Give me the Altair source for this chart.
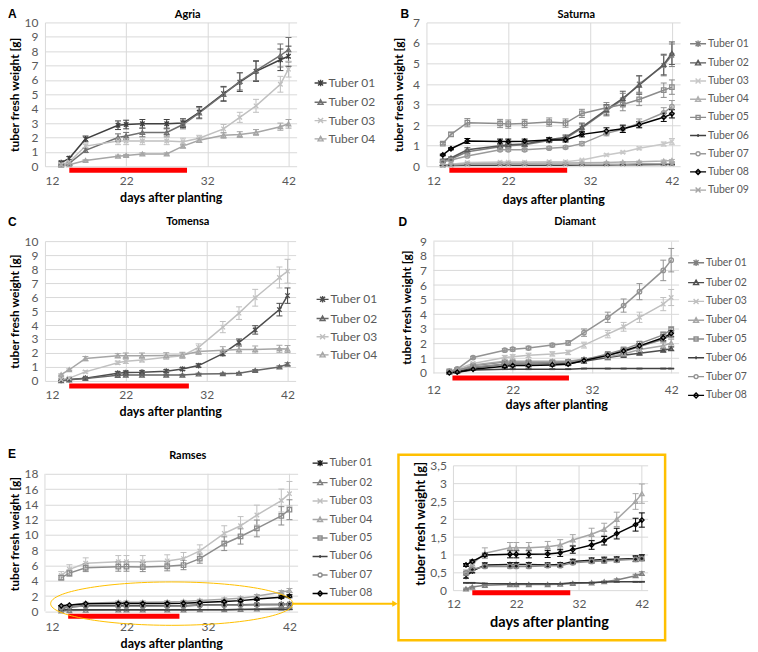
import altair as alt
import pandas as pd

# ---------------- data ----------------
DAYS = [14, 15, 17, 21, 22, 24, 27, 29, 31, 34, 36, 38, 41, 42]
X_TICKS = [12, 22, 32, 42]

# treatment period (red bar): start / end day
RED_AGRIA = [15, 29.5]
RED_SATURNA = [14.8, 29.2]
RED_TOMENSA = [15, 29.8]
RED_DIAMANT = [14.4, 29.1]
RED_RAMSES = [14.85, 28.5]
RED_INSET = [15, 30.6]

# Agria
AGRIA_NAMES = ["Tuber 01", "Tuber 02", "Tuber 03", "Tuber 04"]
agria_01 = [0.25, 0.55, 1.9, 2.85, 2.9, 2.95, 2.95, 3.0, 3.75, 5.05, 5.85, 6.6, 7.4, 7.65]
agria_02 = [0.15, 0.2, 1.1, 2.0, 2.1, 2.35, 2.35, 2.9, 3.7, 5.0, 5.9, 6.65, 7.7, 8.1]
agria_03 = [0.1, 0.3, 1.4, 1.75, 1.75, 1.75, 1.75, 1.7, 1.95, 2.6, 3.4, 4.2, 5.7, 6.75]
agria_04 = [0.05, 0.1, 0.4, 0.7, 0.75, 0.85, 0.85, 1.4, 1.8, 2.15, 2.2, 2.35, 2.75, 2.95]
agria_01_err = [0.1, 0.12, 0.2, 0.3, 0.3, 0.3, 0.3, 0.3, 0.4, 0.5, 0.65, 0.7, 0.75, 0.7]
agria_02_err = [0.08, 0.1, 0.15, 0.25, 0.25, 0.3, 0.25, 0.3, 0.4, 0.5, 0.6, 0.7, 0.8, 0.85]
agria_03_err = [0.05, 0.1, 0.15, 0.25, 0.25, 0.25, 0.25, 0.25, 0.2, 0.3, 0.35, 0.45, 0.55, 0.55]
agria_04_err = [0.03, 0.05, 0.05, 0.07, 0.07, 0.08, 0.08, 0.12, 0.15, 0.2, 0.2, 0.2, 0.25, 0.3]

# Saturna
SATURNA_NAMES = ["Tuber 01", "Tuber 02", "Tuber 03", "Tuber 04", "Tuber 05",
                 "Tuber 06", "Tuber 07", "Tuber 08", "Tuber 09"]
saturna_01 = [0.25, 0.35, 0.7, 0.95, 1.0, 1.05, 1.25, 1.35, 1.85, 2.7, 3.25, 4.0, 4.9, 5.4]
saturna_02 = [0.3, 0.4, 0.8, 1.0, 1.05, 1.08, 1.3, 1.4, 1.9, 2.75, 3.3, 3.95, 4.95, 5.5]
saturna_03 = [0.05, 0.1, 0.18, 0.2, 0.2, 0.2, 0.22, 0.22, 0.3, 0.55, 0.68, 0.87, 1.08, 1.2]
saturna_04 = [0.05, 0.08, 0.12, 0.15, 0.15, 0.15, 0.16, 0.16, 0.17, 0.18, 0.2, 0.22, 0.25, 0.28]
saturna_05 = [1.1, 1.55, 2.12, 2.08, 2.05, 2.08, 2.15, 2.1, 2.57, 2.85, 3.0, 3.25, 3.7, 3.85]
saturna_06 = [0.03, 0.04, 0.05, 0.05, 0.05, 0.05, 0.05, 0.05, 0.06, 0.06, 0.07, 0.07, 0.08, 0.08]
saturna_07 = [0.2, 0.3, 0.5, 0.8, 0.8, 0.8, 0.88, 0.92, 1.1, 1.6, 1.8, 2.1, 2.6, 2.9]
saturna_08 = [0.55, 0.85, 1.23, 1.2, 1.2, 1.22, 1.28, 1.28, 1.55, 1.72, 1.82, 2.02, 2.38, 2.55]
saturna_09 = [0.05, 0.06, 0.1, 0.1, 0.1, 0.1, 0.1, 0.1, 0.1, 0.1, 0.1, 0.12, 0.12, 0.12]
saturna_01_err = [0.04, 0.05, 0.08, 0.1, 0.1, 0.1, 0.1, 0.12, 0.2, 0.25, 0.3, 0.4, 0.5, 0.55]
saturna_02_err = [0.04, 0.05, 0.1, 0.1, 0.1, 0.1, 0.1, 0.12, 0.2, 0.25, 0.35, 0.45, 0.5, 0.55]
saturna_03_err = [0.02, 0.02, 0.03, 0.03, 0.03, 0.03, 0.03, 0.03, 0.04, 0.05, 0.05, 0.07, 0.1, 0.15]
saturna_04_err = [0.02, 0.02, 0.02, 0.02, 0.02, 0.02, 0.02, 0.02, 0.02, 0.03, 0.03, 0.03, 0.05, 0.05]
saturna_05_err = [0.05, 0.1, 0.2, 0.2, 0.2, 0.2, 0.2, 0.2, 0.2, 0.25, 0.3, 0.3, 0.35, 0.35]
saturna_06_err = [0.01, 0.01, 0.01, 0.01, 0.01, 0.01, 0.01, 0.01, 0.01, 0.01, 0.02, 0.02, 0.02, 0.02]
saturna_07_err = [0.03, 0.04, 0.05, 0.07, 0.07, 0.07, 0.07, 0.07, 0.1, 0.12, 0.15, 0.2, 0.25, 0.3]
saturna_08_err = [0.04, 0.05, 0.12, 0.12, 0.12, 0.1, 0.1, 0.1, 0.12, 0.15, 0.18, 0.15, 0.2, 0.2]
saturna_09_err = [0.01, 0.01, 0.02, 0.02, 0.02, 0.02, 0.02, 0.02, 0.02, 0.02, 0.02, 0.03, 0.03, 0.03]

# Tomensa
TOMENSA_NAMES = ["Tuber 01", "Tuber 02", "Tuber 03", "Tuber 04"]
tomensa_01 = [0.05, 0.1, 0.2, 0.55, 0.6, 0.62, 0.7, 0.85, 1.1, 1.95, 2.75, 3.65, 5.1, 6.1]
tomensa_02 = [0.02, 0.08, 0.18, 0.4, 0.42, 0.42, 0.42, 0.42, 0.5, 0.52, 0.55, 0.75, 1.0, 1.2]
tomensa_03 = [0.1, 0.2, 0.65, 1.3, 1.4, 1.5, 1.7, 1.8, 2.4, 3.85, 4.85, 5.95, 7.4, 7.85]
tomensa_04 = [0.45, 0.8, 1.6, 1.8, 1.8, 1.8, 1.82, 1.85, 2.1, 2.2, 2.25, 2.25, 2.3, 2.28]
tomensa_01_err = [0.02, 0.03, 0.05, 0.1, 0.1, 0.1, 0.1, 0.1, 0.12, 0.15, 0.25, 0.3, 0.45, 0.55]
tomensa_02_err = [0.01, 0.02, 0.03, 0.05, 0.05, 0.05, 0.05, 0.05, 0.05, 0.05, 0.06, 0.07, 0.08, 0.1]
tomensa_03_err = [0.03, 0.05, 0.08, 0.12, 0.15, 0.15, 0.15, 0.2, 0.25, 0.4, 0.45, 0.6, 0.75, 0.85]
tomensa_04_err = [0.05, 0.06, 0.15, 0.15, 0.2, 0.2, 0.2, 0.2, 0.2, 0.25, 0.25, 0.25, 0.25, 0.25]

# Diamant
DIAMANT_NAMES = ["Tuber 01", "Tuber 02", "Tuber 03", "Tuber 04",
                 "Tuber 05", "Tuber 06", "Tuber 07", "Tuber 08"]
diamant_01 = [0.1, 0.15, 0.5, 0.75, 0.75, 0.75, 0.75, 0.75, 0.9, 1.2, 1.45, 1.8, 2.3, 2.6]
diamant_02 = [0.05, 0.1, 0.35, 0.6, 0.62, 0.62, 0.65, 0.65, 0.8, 1.05, 1.2, 1.35, 1.55, 1.65]
diamant_03 = [0.08, 0.25, 0.65, 1.05, 1.1, 1.2, 1.3, 1.4, 1.9, 2.65, 3.15, 3.8, 4.7, 5.15]
diamant_04 = [0.1, 0.15, 0.55, 0.8, 0.8, 0.8, 0.8, 0.8, 0.95, 1.1, 1.3, 1.6, 1.85, 2.05]
diamant_05 = [0.1, 0.2, 0.4, 0.6, 0.65, 0.65, 0.7, 0.75, 0.9, 1.3, 1.6, 2.0, 2.6, 2.95]
diamant_06 = [0.05, 0.05, 0.2, 0.25, 0.25, 0.25, 0.25, 0.25, 0.3, 0.3, 0.3, 0.3, 0.3, 0.3]
diamant_07 = [0.1, 0.27, 1.05, 1.55, 1.62, 1.7, 1.9, 2.05, 2.75, 3.8, 4.6, 5.55, 7.0, 7.7]
diamant_08 = [0.0, 0.05, 0.25, 0.45, 0.5, 0.5, 0.55, 0.6, 0.85, 1.2, 1.5, 1.85, 2.4, 2.7]
diamant_01_err = [0.03, 0.04, 0.06, 0.08, 0.08, 0.08, 0.08, 0.08, 0.08, 0.1, 0.12, 0.15, 0.18, 0.2]
diamant_02_err = [0.02, 0.03, 0.05, 0.06, 0.06, 0.06, 0.06, 0.06, 0.06, 0.08, 0.08, 0.1, 0.1, 0.12]
diamant_03_err = [0.03, 0.05, 0.08, 0.15, 0.15, 0.15, 0.15, 0.15, 0.2, 0.25, 0.3, 0.35, 0.45, 0.55]
diamant_04_err = [0.03, 0.04, 0.06, 0.08, 0.08, 0.08, 0.08, 0.08, 0.08, 0.1, 0.12, 0.15, 0.2, 0.25]
diamant_05_err = [0.03, 0.04, 0.05, 0.07, 0.07, 0.07, 0.07, 0.08, 0.08, 0.1, 0.12, 0.15, 0.2, 0.2]
diamant_06_err = [0.01, 0.01, 0.02, 0.02, 0.02, 0.02, 0.02, 0.02, 0.02, 0.02, 0.02, 0.02, 0.02, 0.02]
diamant_07_err = [0.03, 0.05, 0.08, 0.1, 0.12, 0.12, 0.12, 0.15, 0.25, 0.35, 0.45, 0.55, 0.7, 0.8]
diamant_08_err = [0.01, 0.02, 0.04, 0.08, 0.08, 0.08, 0.08, 0.1, 0.1, 0.12, 0.12, 0.15, 0.2, 0.2]

# Ramses
RAMSES_NAMES = ["Tuber 01", "Tuber 02", "Tuber 03", "Tuber 04",
                "Tuber 05", "Tuber 06", "Tuber 07", "Tuber 08"]
ramses_01 = [0.4, 0.55, 0.72, 0.73, 0.73, 0.73, 0.72, 0.73, 0.82, 0.85, 0.87, 0.88, 0.9, 0.93]
ramses_02 = [0.05, 0.1, 0.15, 0.17, 0.17, 0.17, 0.17, 0.18, 0.2, 0.22, 0.25, 0.3, 0.42, 0.48]
ramses_03 = [4.7, 5.5, 6.3, 6.5, 6.5, 6.5, 6.6, 6.9, 7.9, 10.2, 11.2, 12.6, 14.5, 15.4]
ramses_04 = [0.5, 0.75, 1.05, 1.2, 1.2, 1.2, 1.23, 1.28, 1.42, 1.58, 1.72, 2.0, 2.5, 2.72]
ramses_05 = [4.4, 5.0, 5.7, 5.85, 5.85, 5.8, 5.9, 6.05, 6.9, 8.85, 9.8, 10.85, 12.5, 13.3]
ramses_06 = [0.22, 0.22, 0.2, 0.19, 0.19, 0.19, 0.19, 0.19, 0.22, 0.22, 0.24, 0.25, 0.25, 0.25]
ramses_07 = [0.5, 0.6, 0.68, 0.68, 0.68, 0.68, 0.7, 0.7, 0.78, 0.82, 0.83, 0.85, 0.88, 0.9]
ramses_08 = [0.72, 0.82, 1.0, 1.02, 1.02, 1.02, 1.03, 1.06, 1.15, 1.28, 1.4, 1.6, 1.85, 1.98]
ramses_01_err = [0.05, 0.05, 0.06, 0.06, 0.06, 0.06, 0.06, 0.06, 0.06, 0.07, 0.07, 0.07, 0.08, 0.08]
ramses_02_err = [0.02, 0.02, 0.02, 0.02, 0.02, 0.02, 0.02, 0.02, 0.02, 0.02, 0.02, 0.03, 0.04, 0.05]
ramses_03_err = [0.5, 0.6, 0.7, 0.8, 0.8, 0.8, 0.8, 0.8, 0.8, 1.0, 1.2, 1.3, 1.5, 1.6]
ramses_04_err = [0.08, 0.1, 0.15, 0.15, 0.15, 0.15, 0.15, 0.15, 0.15, 0.17, 0.17, 0.2, 0.22, 0.27]
ramses_05_err = [0.3, 0.4, 0.5, 0.6, 0.6, 0.6, 0.6, 0.6, 0.6, 0.9, 1.0, 1.1, 1.2, 1.3]
ramses_06_err = [0.01, 0.01, 0.01, 0.01, 0.01, 0.01, 0.01, 0.01, 0.01, 0.01, 0.01, 0.01, 0.01, 0.01]
ramses_07_err = [0.04, 0.04, 0.05, 0.05, 0.05, 0.05, 0.05, 0.05, 0.05, 0.06, 0.06, 0.06, 0.07, 0.07]
ramses_08_err = [0.04, 0.04, 0.05, 0.1, 0.1, 0.1, 0.1, 0.1, 0.1, 0.12, 0.12, 0.15, 0.18, 0.2]
INSET_NAMES = ["Tuber 01", "Tuber 02", "Tuber 04", "Tuber 06", "Tuber 07", "Tuber 08"]

# ---------------- style ----------------
FONT = "Lato"
GRID = "#d9d9d9"
LABEL = "#595959"
GOLD = "#FFC000"

AGRIA_COLORS = ["#404040", "#707070", "#c0c0c0", "#a6a6a6"]
SATURNA_COLORS = ["#7f7f7f", "#595959", "#c8c8c8", "#b0b0b0", "#8c8c8c",
                  "#404040", "#9a9a9a", "#000000", "#a6a6a6"]
TOMENSA_COLORS = ["#4d4d4d", "#666666", "#c0c0c0", "#a6a6a6"]
DIAMANT_COLORS = ["#7f7f7f", "#4d4d4d", "#c0c0c0", "#a6a6a6",
                  "#8c8c8c", "#404040", "#939393", "#000000"]
RAMSES_COLORS = ["#1a1a1a", "#808080", "#c0c0c0", "#a6a6a6",
                 "#8c8c8c", "#404040", "#8c8c8c", "#000000"]

TUBER_MARK = {"Tuber 01": "ast", "Tuber 02": "tri", "Tuber 03": "x", "Tuber 04": "tri",
              "Tuber 05": "sq", "Tuber 06": "dash", "Tuber 07": "circ",
              "Tuber 08": "dia", "Tuber 09": "x"}
MARK_PATHS = {
    "ast": "M-1,-1L1,1M-1,1L1,-1M0,-1.3V1.3",
    "tri": "triangle-up",
    "x": "M-1,-1L1,1M-1,1L1,-1",
    "sq": "square",
    "dash": "M-1.3,0H1.3",
    "circ": "circle",
    "dia": "diamond",
}


def leg_path(kind, k):
    h = round(k, 3)
    if kind == "ast":
        return f"M-1,0H1M{-h},{-h}L{h},{h}M{-h},{h}L{h},{-h}M0,{-h*1.3:.3f}V{h*1.3:.3f}"
    if kind == "tri":
        return f"M-1,0H1M0,{-h}L{h},{h*0.8:.3f}H{-h}Z"
    if kind == "x":
        return f"M-1,0H1M{-h},{-h}L{h},{h}M{-h},{h}L{h},{-h}"
    if kind == "sq":
        return f"M-1,0H1M{-h*0.8:.3f},{-h*0.8:.3f}H{h*0.8:.3f}V{h*0.8:.3f}H{-h*0.8:.3f}Z"
    if kind == "dash":
        return f"M-1,0H1M0,{-h*0.6:.3f}V{h*0.6:.3f}"
    if kind == "circ":
        r = h * 0.8
        return (f"M-1,0H{-r:.3f}A{r:.3f},{r:.3f} 0 1,1 {r:.3f},0"
                f"A{r:.3f},{r:.3f} 0 1,1 {-r:.3f},0M{r:.3f},0H1")
    return f"M-1,0H1M0,{-h}L{h},0L0,{h}L{-h},0Z"


def make_df(names, values, errors):
    rows = []
    for n, vals, errs in zip(names, values, errors):
        for d, v, e in zip(DAYS, vals, errs):
            rows.append({"day": d, "tuber": n, "v": v, "lo": v - e, "hi": v + e})
    return pd.DataFrame(rows)


ONE = alt.Data(values=[{"k": 1}])


def text_layer(txt, x, y, size, font=FONT, align="center", baseline="middle"):
    return alt.Chart(ONE).mark_text(
        text=txt, font=font, fontSize=size, fontWeight="bold", color="black",
        align=align, baseline=baseline
    ).encode(x=alt.value(x), y=alt.value(y))


def panel(names, values, errors, colors, width, height, xmin, ymax, yticks, red, red_dy,
          legend=None, title=None, letter=None, ytitle_x=-30, xtitle_y=31, xtitle_x=None,
          xlabel_pad=9, ytitle_size=12, xtitle_size=12.5, comma=False, yoffset=0,
          xgrid_manual=False, ygrid_manual=False, post=()):
    df = make_df(names, values, errors)
    xs = alt.Scale(domain=[xmin, 43], nice=False, zero=False)
    ys = alt.Scale(domain=[0, ymax], nice=False, zero=False)
    xkw = dict(values=X_TICKS, grid=not xgrid_manual, gridColor=GRID, gridWidth=1,
               domain=False, ticks=False, labelColor=LABEL, labelFont=FONT,
               labelFontSize=12, labelPadding=xlabel_pad, labelOverlap=False,
               title="days after planting", titleFont=FONT,
               titleFontSize=xtitle_size, titleFontWeight="bold",
               titleColor="black", titleBaseline="middle", titleY=xtitle_y)
    if xtitle_x is not None:
        xkw.update(titleX=xtitle_x, titleAlign="center")
    xaxis = alt.Axis(**xkw)
    ykw = dict(values=yticks, grid=not ygrid_manual, gridColor=GRID, gridWidth=1,
               domain=False, ticks=False, labelColor=LABEL, labelFont=FONT,
               labelFontSize=12, labelPadding=7, labelOverlap=False, offset=yoffset,
               title="tuber fresh weight [g]", titleFont=FONT,
               titleFontSize=ytitle_size, titleFontWeight="bold", titleColor="black",
               titleBaseline="middle", titleAngle=270, titleX=ytitle_x)
    if comma:
        ykw.update(format="~g", labelExpr="replace(datum.label, '.', ',')")
    yaxis = alt.Axis(**ykw)

    def X(f):
        return alt.X(f, scale=xs, axis=xaxis)

    def Y(f):
        return alt.Y(f, scale=ys, axis=yaxis)

    cscale = alt.Scale(domain=names, range=colors)
    C = alt.Color("tuber:N", scale=cscale, legend=None)
    shapes = [MARK_PATHS[TUBER_MARK[n]] for n in names]
    base = alt.Chart(df)

    layers = []
    if xgrid_manual:
        vg = pd.DataFrame({"t": X_TICKS, "y0": [0] * len(X_TICKS),
                           "y1": [yticks[-1]] * len(X_TICKS)})
        layers.append(alt.Chart(vg).mark_rule(color=GRID, strokeWidth=1).encode(
            x=X("t:Q"), y=Y("y0:Q"), y2="y1:Q"))
    if ygrid_manual:
        hg = pd.DataFrame({"g": yticks, "x0": [12] * len(yticks), "x1": [43] * len(yticks)})
        layers.append(alt.Chart(hg).mark_rule(color=GRID, strokeWidth=1).encode(
            y=Y("g:Q"), x=X("x0:Q"), x2="x1:Q"))

    lines = base.mark_line(strokeWidth=1.5).encode(x=X("day:Q"), y=Y("v:Q"), color=C)
    bars = base.mark_rule(strokeWidth=1).encode(
        x=X("day:Q"), y=Y("lo:Q"), y2="hi:Q", color=C)
    cap_lo = base.mark_tick(orient="horizontal", size=6, thickness=1, opacity=1).encode(
        x=X("day:Q"), y=Y("lo:Q"), color=C)
    cap_hi = base.mark_tick(orient="horizontal", size=6, thickness=1, opacity=1).encode(
        x=X("day:Q"), y=Y("hi:Q"), color=C)
    pts = base.mark_point(filled=False, size=20, strokeWidth=1.3, opacity=1).encode(
        x=X("day:Q"), y=Y("v:Q"), color=C,
        shape=alt.Shape("tuber:N", scale=alt.Scale(domain=names, range=shapes), legend=None))
    redbar = alt.Chart(alt.Data(values=[{"start": red[0], "end": red[1]}])).mark_rule(
        color="#FF0000", strokeWidth=5, strokeCap="butt").encode(
        x=X("start:Q"), x2="end:Q", y=alt.value(height + red_dy))

    layers += [lines, bars, cap_lo, cap_hi, pts, redbar]
    if legend is not None:
        L = legend["line"]
        k = 5.0 / L
        lshapes = [leg_path(TUBER_MARK[n], k) for n in names]
        lg = alt.Legend(orient="none", legendX=legend["x"], legendY=legend["y"],
                        title=None, padding=0, labelFont=FONT,
                        labelFontSize=legend["fs"], labelColor=LABEL,
                        symbolSize=L * L, symbolStrokeWidth=1.4,
                        rowPadding=legend["rp"], labelOffset=1, symbolOffset=0)
        leg = base.transform_filter("false").mark_point(
            filled=False, strokeWidth=1.4, opacity=1).encode(
            x=X("day:Q"), y=Y("v:Q"),
            color=alt.Color("tuber:N", scale=cscale, legend=lg),
            shape=alt.Shape("tuber:N", scale=alt.Scale(domain=names, range=lshapes),
                            legend=lg))
        layers.append(leg)
    if title is not None:
        layers.append(text_layer(title[0], title[1], title[2], 11, baseline=title[3]))
    if letter is not None:
        layers.append(text_layer(letter[0], letter[1], letter[2], 12,
                                 font="Liberation Sans", align="left", baseline="top"))
    layers += list(post)
    return alt.layer(*layers).resolve_scale(
        color="independent", shape="independent").properties(width=width, height=height)


# ---------------- panels ----------------
pA = panel(AGRIA_NAMES, [agria_01, agria_02, agria_03, agria_04],
           [agria_01_err, agria_02_err, agria_03_err, agria_04_err],
           AGRIA_COLORS, 252, 144, 12, 10, list(range(0, 11)), RED_AGRIA, 4,
           legend=dict(x=269, y=53.7, fs=12, rp=5.3, line=12),
           title=("Agria", 143, -13, "top"), letter=("A", -37, -13))

pB = panel(SATURNA_NAMES,
           [saturna_01, saturna_02, saturna_03, saturna_04, saturna_05,
            saturna_06, saturna_07, saturna_08, saturna_09],
           [saturna_01_err, saturna_02_err, saturna_03_err, saturna_04_err, saturna_05_err,
            saturna_06_err, saturna_07_err, saturna_08_err, saturna_09_err],
           SATURNA_COLORS, 254, 144, 12, 7, list(range(0, 8)), RED_SATURNA, 4,
           legend=dict(x=263, y=12.3, fs=10.5, rp=3.2, line=16),
           title=("Saturna", 150, -13, "top"), letter=("B", -26, -13),
           ytitle_x=-28, xtitle_y=33)

pC = panel(TOMENSA_NAMES, [tomensa_01, tomensa_02, tomensa_03, tomensa_04],
           [tomensa_01_err, tomensa_02_err, tomensa_03_err, tomensa_04_err],
           TOMENSA_COLORS, 251, 140, 12, 10, list(range(0, 11)), RED_TOMENSA, 5,
           legend=dict(x=271, y=51.3, fs=12, rp=5.2, line=12),
           title=("Tomensa", 143, -18.7, "middle"), letter=("C", -37, -24))

D_SHIFT = 7
pD = panel(DIAMANT_NAMES,
           [diamant_01, diamant_02, diamant_03, diamant_04,
            diamant_05, diamant_06, diamant_07, diamant_08],
           [diamant_01_err, diamant_02_err, diamant_03_err, diamant_04_err,
            diamant_05_err, diamant_06_err, diamant_07_err, diamant_08_err],
           DIAMANT_COLORS, 246 + D_SHIFT, 132, 12 - D_SHIFT / 7.923, 9, list(range(0, 10)),
           RED_DIAMANT, 5,
           legend=dict(x=261, y=12.7, fs=10.5, rp=3.83, line=16),
           title=("Diamant", 141.7 + D_SHIFT, -19.3, "middle"), letter=("D", -35 + D_SHIFT, -24),
           ytitle_x=-27, xtitle_y=32, xtitle_x=130, xlabel_pad=12, yoffset=-D_SHIFT,
           ygrid_manual=True)

ELLIPSE = "M-1,0A1,0.179 0 1,0 1,0A1,0.179 0 1,0 -1,0"
e_ellipse = alt.Chart(ONE).mark_point(
    shape=ELLIPSE, size=58855, filled=False, color=GOLD, strokeWidth=1, opacity=1).encode(
    x=alt.value(127), y=alt.value(148))

pE = panel(RAMSES_NAMES,
           [ramses_01, ramses_02, ramses_03, ramses_04,
            ramses_05, ramses_06, ramses_07, ramses_08],
           [ramses_01_err, ramses_02_err, ramses_03_err, ramses_04_err,
            ramses_05_err, ramses_06_err, ramses_07_err, ramses_08_err],
           RAMSES_COLORS, 253, 155.7, 12, 155.7 / (137.7 / 18),
           list(range(0, 19, 2)), RED_RAMSES, 5,
           legend=dict(x=267, y=-1.2, fs=11, rp=4.5, line=15),
           title=("Ramses", 143, -0.3, "middle"), letter=("E", -37, -7),
           xtitle_y=32, xlabel_pad=10, xgrid_manual=True,
           post=[e_ellipse])

ins_idx = [RAMSES_NAMES.index(n) for n in INSET_NAMES]
ramses_vals = [ramses_01, ramses_02, ramses_03, ramses_04, ramses_05, ramses_06, ramses_07, ramses_08]
ramses_errs = [ramses_01_err, ramses_02_err, ramses_03_err, ramses_04_err,
               ramses_05_err, ramses_06_err, ramses_07_err, ramses_08_err]

I_SHIFT = 27
frame = alt.Chart(ONE).mark_rect(fill="white", fillOpacity=0, stroke=GOLD, strokeWidth=2.5).encode(
    x=alt.value(-28), x2=alt.value(239), y=alt.value(-1), y2=alt.value(184.7))
connector = alt.Chart(ONE).mark_rule(color=GOLD, strokeWidth=2).encode(
    x=alt.value(-134), x2=alt.value(-33), y=alt.value(148))
arrow = alt.Chart(ONE).mark_point(shape="triangle-right", filled=True, color=GOLD,
                                  size=40, opacity=1).encode(x=alt.value(-31.5), y=alt.value(148))

pI = panel(INSET_NAMES, [ramses_vals[i] for i in ins_idx], [ramses_errs[i] for i in ins_idx],
           [RAMSES_COLORS[i] for i in ins_idx], 195 + I_SHIFT, 135, 12 - I_SHIFT / 6.277,
           135 / (125 / 3.5), [0, 0.5, 1, 1.5, 2, 2.5, 3, 3.5], RED_INSET, 2,
           ytitle_x=-33, xtitle_y=32, xtitle_x=122.7, xlabel_pad=8, ytitle_size=13,
           xtitle_size=14.5, comma=True, yoffset=-I_SHIFT,
           xgrid_manual=True, ygrid_manual=True, post=[frame, connector, arrow])

chart = alt.concat(
    pA, pB, pC, pD, pE, pI, columns=2, align="each", bounds="flush",
    spacing=alt.RowColnumber(row=75, column=129)
).resolve_scale(color="independent", shape="independent").properties(
    padding=0).configure(background="white").configure_view(strokeWidth=0)

chart.save("out.html", embed_options={"renderer": "svg", "actions": False})
